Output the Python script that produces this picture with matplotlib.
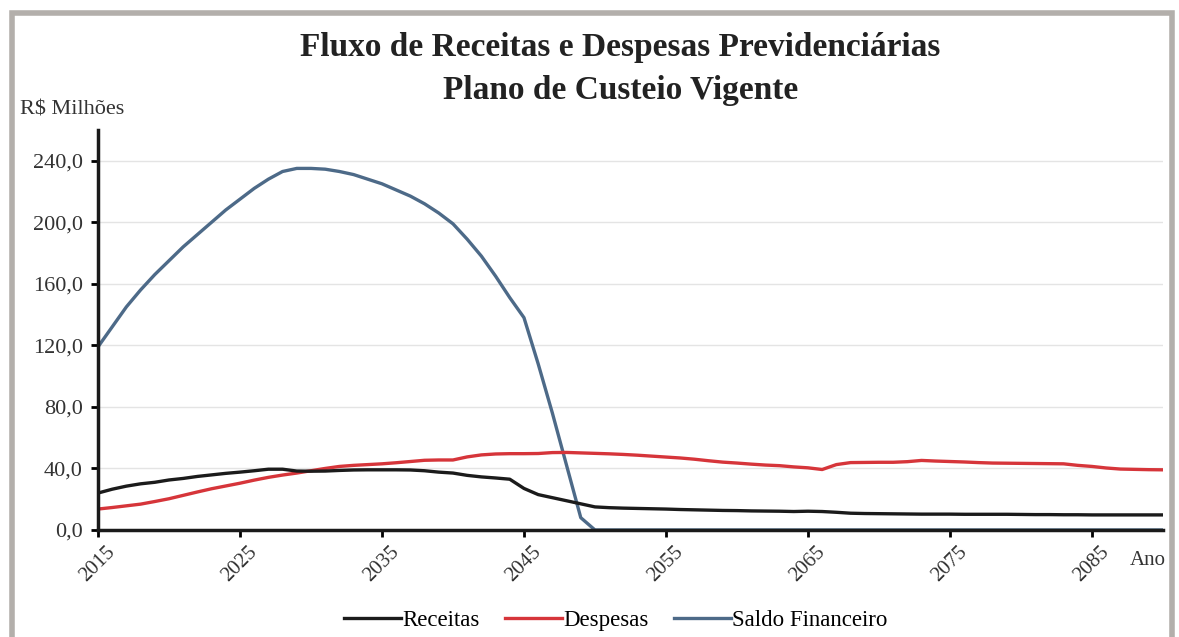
import numpy as np
import matplotlib
matplotlib.use("Agg")
import matplotlib.pyplot as plt
from matplotlib.patches import Rectangle

plt.rcParams['font.family'] = ['Liberation Serif', 'DejaVu Serif']

# anos 2015..2090
anos = list(range(2015, 2091))

receitas = [24.0, 26.5, 28.5, 30.0, 31.0, 32.5, 33.5, 34.8, 35.8, 36.8,
            37.6, 38.5, 39.5, 39.5, 38.3, 38.2, 38.3, 38.7, 39.0, 39.1,
            39.1, 39.1, 39.0, 38.5, 37.6, 37.0, 35.5, 34.5, 33.8, 33.0,
            27.0, 23.0, 21.0, 19.0, 17.0, 15.0, 14.5, 14.2, 14.0, 13.8,
            13.6, 13.3, 13.1, 12.9, 12.7, 12.6, 12.4, 12.3, 12.2, 12.0,
            12.2, 12.0, 11.5, 10.9, 10.7, 10.6, 10.5, 10.4, 10.3, 10.3,
            10.3, 10.2, 10.2, 10.2, 10.2, 10.1, 10.0, 10.0, 9.9, 9.9,
            9.8, 9.8, 9.8, 9.8, 9.8, 9.8]

despesas = [13.6, 14.6, 15.7, 16.8, 18.5, 20.3, 22.5, 24.7, 26.8, 28.6,
            30.4, 32.4, 34.2, 35.7, 37.0, 38.5, 40.0, 41.3, 42.0, 42.5,
            43.0, 43.7, 44.5, 45.3, 45.5, 45.5, 47.5, 48.8, 49.4, 49.6,
            49.6, 49.7, 50.3, 50.4, 50.1, 49.8, 49.5, 49.1, 48.6, 48.0,
            47.4, 46.8, 46.0, 45.0, 44.1, 43.5, 42.8, 42.2, 41.8, 41.0,
            40.4, 39.3, 42.5, 43.8, 43.9, 44.0, 44.0, 44.4, 45.2, 44.8,
            44.5, 44.2, 43.8, 43.5, 43.4, 43.3, 43.2, 43.1, 43.0, 42.0,
            41.3, 40.3, 39.6, 39.4, 39.2, 39.1]

saldo = [119, 132, 145, 156, 166, 175, 184, 192, 200, 208,
         215, 222, 228, 233, 235, 235, 234.5, 233, 231, 228,
         225, 221, 217, 212, 206, 199, 189, 178, 165, 151,
         138, 108, 76, 42, 8] + [0] * 41

anos_ticks = [2015, 2025, 2035, 2045, 2055, 2065, 2075, 2085]
y_ticks = [0, 40, 80, 120, 160, 200, 240]

fig = plt.figure(figsize=(11.79, 6.37), dpi=100)
ax = fig.add_axes([0.0831, 0.168, 0.9033, 0.628])

ax.plot(anos, saldo, color='#4d6a88', lw=2.4, label='Saldo Financeiro', zorder=3)
ax.plot(anos, despesas, color='#d6353a', lw=2.4, label='Despesas', zorder=4)
ax.plot(anos, receitas, color='#1b1b1b', lw=2.4, label='Receitas', zorder=5)

ax.set_xlim(2015, 2090)
ax.set_ylim(0, 260)
ax.set_yticks(y_ticks)
ax.set_yticklabels([f"{v:.1f}".replace('.', ',') for v in y_ticks], fontsize=16, color='#333333')
ax.set_xticks(anos_ticks)
ax.set_xticklabels([str(a) for a in anos_ticks], rotation=45, ha='center',
                   va='top', fontsize=15, color='#333333')
ax.grid(axis='y', color='#e4e4e4', lw=1.0)
ax.set_axisbelow(True)

for s in ['top', 'right']:
    ax.spines[s].set_visible(False)
for s in ['left', 'bottom']:
    ax.spines[s].set_linewidth(2.5)
    ax.spines[s].set_color('#1a1a1a')
    ax.spines[s].set_zorder(6)
ax.tick_params(axis='y', direction='out', length=5, width=2, pad=6)
ax.tick_params(axis='x', direction='out', length=5, width=2, pad=4)

fig.text(0.526, 0.926, 'Fluxo de Receitas e Despesas Previdenciárias',
         ha='center', va='center', fontsize=24, fontweight='bold', color='#222222')
fig.text(0.526, 0.858, 'Plano de Custeio Vigente',
         ha='center', va='center', fontsize=24, fontweight='bold', color='#222222')
fig.text(0.017, 0.827, 'R$ Milhões', ha='left', va='center', fontsize=16, color='#333333')
fig.text(0.958, 0.12, 'Ano', ha='left', va='center', fontsize=15, color='#333333')

handles, labels = ax.get_legend_handles_labels()
order = [2, 1, 0]
fig.legend([handles[i] for i in order], [labels[i] for i in order],
           loc='center', bbox_to_anchor=(0.522, 0.026), ncol=3, frameon=False,
           fontsize=16.5, handlelength=2.5, handletextpad=0.05, columnspacing=1.1)

# moldura cinza do grafico
fig.patches.append(Rectangle((12 / 1179, -0.05), 1160 / 1179, 1.05 - 13 / 637,
                             transform=fig.transFigure, fill=False,
                             edgecolor='#b3afab', lw=4))

fig.savefig('out.png', dpi=100)
